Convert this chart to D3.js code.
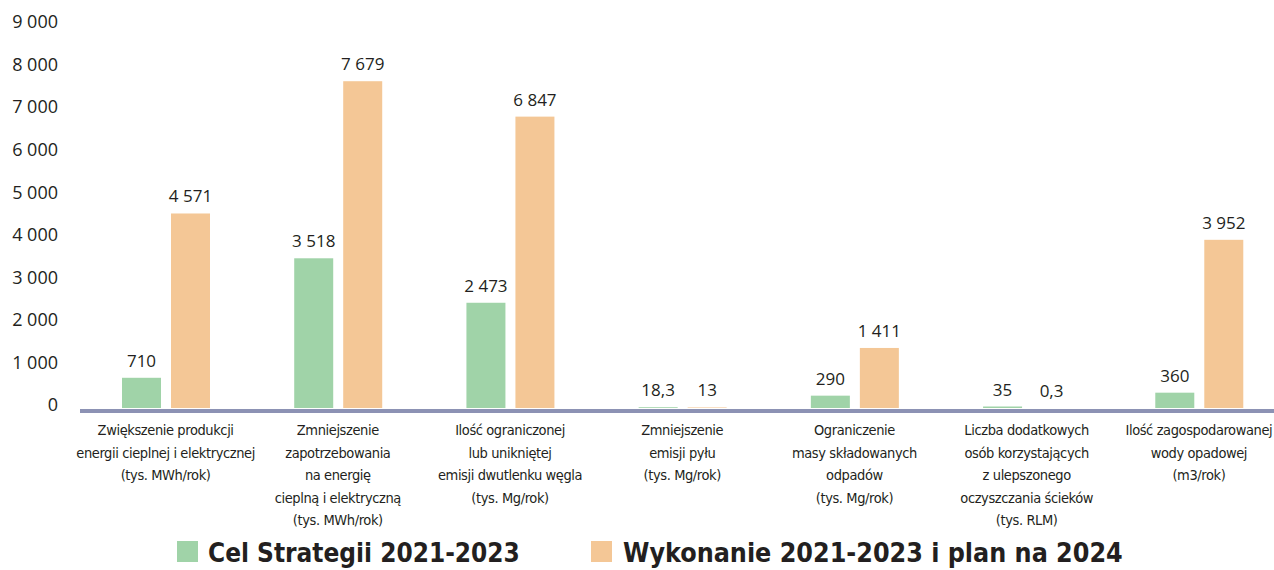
<!DOCTYPE html>
<html>
<head>
<meta charset="utf-8">
<script src="https://cdn.jsdelivr.net/npm/d3@7/dist/d3.min.js"></script>
<style>
  html, body { margin: 0; padding: 0; background: #ffffff; }
  svg { display: block; }
</style>
</head>
<body>
<svg id="chart" width="1274" height="570"></svg>
<script>
// ---- data ----
const categories = [
  ["Zwiększenie produkcji", "energii cieplnej i elektrycznej", "(tys. MWh/rok)"],
  ["Zmniejszenie", "zapotrzebowania", "na energię", "cieplną i elektryczną", "(tys. MWh/rok)"],
  ["Ilość ograniczonej", "lub unikniętej", "emisji dwutlenku węgla", "(tys. Mg/rok)"],
  ["Zmniejszenie", "emisji pyłu", "(tys. Mg/rok)"],
  ["Ograniczenie", "masy składowanych", "odpadów", "(tys. Mg/rok)"],
  ["Liczba dodatkowych", "osób korzystających", "z ulepszonego", "oczyszczania ścieków", "(tys. RLM)"],
  ["Ilość zagospodarowanej", "wody opadowej", "(m3/rok)"]
];
const seriesNames = ["Cel Strategii 2021-2023", "Wykonanie 2021-2023 i plan na 2024"];
const celStrategii = [710, 3518, 2473, 18.3, 290, 35, 360];
const wykonanie = [4571, 7679, 6847, 13, 1411, 0.3, 3952];
const yTicks = [0, 1000, 2000, 3000, 4000, 5000, 6000, 7000, 8000, 9000];

const colors = ["#a0d3a8", "#f4c796"];
const series = [celStrategii, wykonanie];

// ---- setup ----
const svg = d3.select("#chart");
const locale = d3.formatLocale({decimal: ",", thousands: " ", grouping: [3], currency: ["", ""]});
const fmt = locale.format(",~f");

const catIdx = categories.map((d, i) => i);
const x = d3.scaleBand().domain(catIdx).range([79.5, 1285]).padding(0);
const xs = d3.scaleBand().domain([0, 1]).range([42.5, 130.5]).paddingInner(0.204).paddingOuter(0);
const y = d3.scaleLinear().domain([0, 9000]).range([408, 25]);

const numFont = "'Open Sans', 'DejaVu Sans', sans-serif";
const narrowFont = "'Liberation Sans Narrow', 'DejaVu Sans Condensed', 'Roboto Condensed', sans-serif";

// y tick labels
svg.append("g")
  .selectAll("text")
  .data(yTicks)
  .join("text")
  .attr("x", 58)
  .attr("y", d => y(d) - 3)
  .attr("dy", "0.35em")
  .attr("text-anchor", "end")
  .attr("font-family", numFont)
  .attr("font-size", 18)
  .attr("fill", "#231f20")
  .text(d => fmt(d));

// bars
const groups = svg.append("g")
  .selectAll("g")
  .data(catIdx)
  .join("g")
  .attr("transform", i => `translate(${x(i)},0)`);

groups.selectAll("rect")
  .data(i => series.map((s, k) => ({k, v: s[i]})))
  .join("rect")
  .attr("x", d => xs(d.k))
  .attr("width", xs.bandwidth())
  .attr("y", d => y(d.v))
  .attr("height", d => y(0) - y(d.v))
  .attr("fill", d => colors[d.k]);

groups.selectAll("text.val")
  .data(i => series.map((s, k) => ({k, v: s[i]})))
  .join("text")
  .attr("class", "val")
  .attr("x", d => xs(d.k) + xs.bandwidth() / 2)
  .attr("y", d => y(d.v) - 11)
  .attr("text-anchor", "middle")
  .attr("font-family", numFont)
  .attr("font-size", 17)
  .attr("fill", "#231f20")
  .text(d => fmt(d.v));

// baseline
svg.append("rect")
  .attr("x", 80)
  .attr("y", y(0) + 1)
  .attr("width", 1274 - 80)
  .attr("height", 4)
  .attr("fill", "#8c92b4");

// category labels
groups.append("text")
  .attr("text-anchor", "middle")
  .attr("font-family", narrowFont)
  .attr("font-size", 14.5)
  .attr("letter-spacing", "-0.4px")
  .attr("fill", "#231f20")
  .selectAll("tspan")
  .data(i => categories[i])
  .join("tspan")
  .attr("x", x.bandwidth() / 2)
  .attr("y", (d, j) => 435 + j * 22.5)
  .text(d => d);

// legend
const legendItems = [
  {sx: 177, tx: 208, w: 312},
  {sx: 591, tx: 623, w: 500}
];
const leg = svg.append("g");
legendItems.forEach((it, k) => {
  leg.append("rect")
    .attr("x", it.sx).attr("y", 541)
    .attr("width", 21).attr("height", 21)
    .attr("fill", colors[k]);
  const t = leg.append("text")
    .attr("x", it.tx).attr("y", 562)
    .attr("font-family", narrowFont)
    .attr("font-weight", "bold")
    .attr("font-size", 29)
    .attr("fill", "#231f20")
    .text(seriesNames[k]);
  const len = t.node().getComputedTextLength();
  if (len > 0) t.attr("font-size", 29 * it.w / len > 32 ? 32 : 29 * it.w / len);
});
</script>
</body>
</html>
